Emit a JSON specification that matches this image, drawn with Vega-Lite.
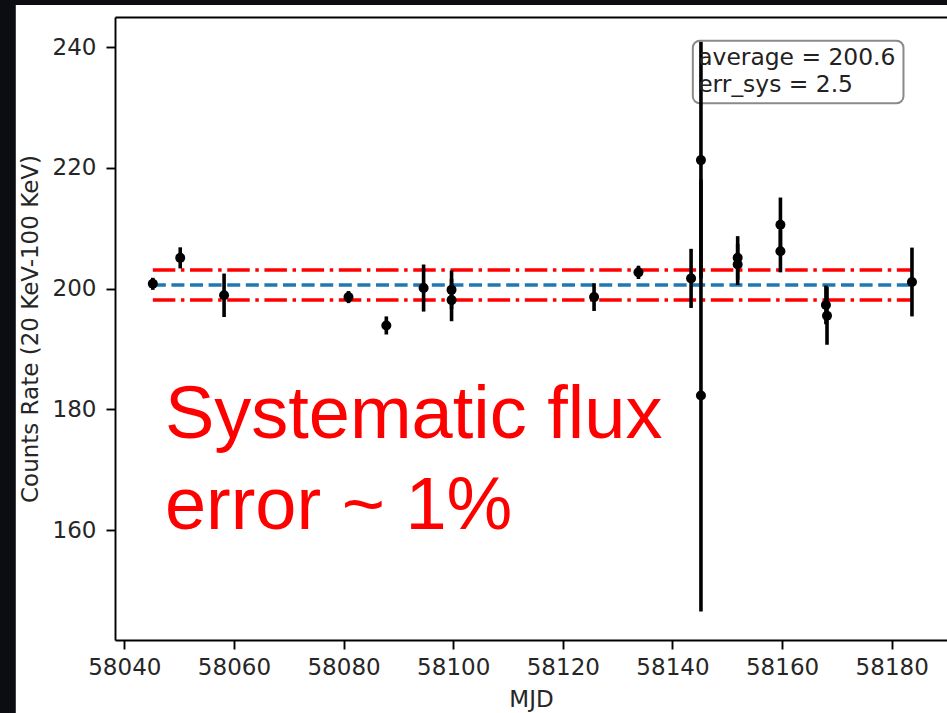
{
  "$schema": "https://vega.github.io/schema/vega-lite/v6.json",
  "width": 832,
  "height": 623,
  "autosize": {"type": "none"},
  "padding": {"left": 115, "top": 17, "right": 0, "bottom": 73},
  "background": "#0b0d12",
  "config": {
    "view": {"stroke": null},
    "axis": {
      "grid": false,
      "domainColor": "#000000",
      "domainWidth": 1.9,
      "tickColor": "#000000",
      "tickWidth": 1.9,
      "tickSize": 9,
      "labelFont": "DejaVu Sans",
      "labelFontSize": 23,
      "labelColor": "#262626",
      "titleFont": "DejaVu Sans",
      "titleFontSize": 23,
      "titleFontWeight": "normal",
      "titleColor": "#262626"
    },
    "text": {"lineBreak": "\n"}
  },
  "datasets": {
    "obs": [
      {"mjd": 58045.2, "rate": 200.8, "err": 1.0},
      {"mjd": 58050.2, "rate": 205.1, "err": 1.75},
      {"mjd": 58058.2, "rate": 198.9, "err": 3.6},
      {"mjd": 58080.9, "rate": 198.6, "err": 1.0},
      {"mjd": 58087.8, "rate": 193.9, "err": 1.5},
      {"mjd": 58094.6, "rate": 200.1, "err": 3.9},
      {"mjd": 58099.7, "rate": 199.8, "err": 3.2},
      {"mjd": 58099.7, "rate": 198.1, "err": 3.5},
      {"mjd": 58125.7, "rate": 198.6, "err": 2.3},
      {"mjd": 58133.8, "rate": 202.7, "err": 1.1},
      {"mjd": 58143.4, "rate": 201.7, "err": 4.9},
      {"mjd": 58145.2, "rate": 221.3, "err": 19.6},
      {"mjd": 58145.2, "rate": 182.3, "err": 35.8},
      {"mjd": 58151.9, "rate": 205.1, "err": 3.6},
      {"mjd": 58151.9, "rate": 204.0, "err": 3.4},
      {"mjd": 58159.7, "rate": 210.6, "err": 4.5},
      {"mjd": 58159.7, "rate": 206.2, "err": 3.5},
      {"mjd": 58168.0, "rate": 197.3, "err": 3.2},
      {"mjd": 58168.2, "rate": 195.5, "err": 4.8},
      {"mjd": 58183.7, "rate": 201.1, "err": 5.7}
    ],
    "levels": [
      {"kind": "average", "value": 200.6, "start": 58045.2, "end": 58183.7},
      {"kind": "upper", "value": 203.1, "start": 58045.2, "end": 58183.7},
      {"kind": "lower", "value": 198.1, "start": 58045.2, "end": 58183.7}
    ],
    "note": [
      {"summary": "average = 200.6\nerr_sys = 2.5", "headline": "Systematic flux\nerror ~ 1%"}
    ]
  },
  "layer": [
    {
      "description": "white figure canvas",
      "data": {"values": [{}]},
      "mark": {"type": "rect", "fill": "#ffffff", "clip": false},
      "encoding": {
        "x": {"datum": 58020.2, "type": "quantitative", "axis": null},
        "x2": {"datum": 58200},
        "y": {"datum": 247.0, "type": "quantitative", "axis": null},
        "y2": {"datum": 125}
      }
    },
    {
      "description": "summary box",
      "data": {"values": [{}]},
      "mark": {"type": "rect", "fill": "#ffffff", "stroke": "#8a8a8a", "strokeWidth": 2, "cornerRadius": 7},
      "encoding": {
        "x": {"datum": 58143.72, "type": "quantitative", "axis": null},
        "x2": {"datum": 58182.15},
        "y": {"datum": 241.09, "type": "quantitative", "axis": null},
        "y2": {"datum": 230.72}
      }
    },
    {
      "data": {"name": "levels"},
      "mark": {"type": "rule", "strokeWidth": 3.5},
      "encoding": {
        "x": {"field": "start", "type": "quantitative", "axis": {"orient": "top", "labels": false, "ticks": false, "title": null, "domain": true, "zindex": 1}},
        "x2": {"field": "end"},
        "y": {"field": "value", "type": "quantitative", "axis": null},
        "color": {
          "field": "kind", "type": "nominal", "legend": null,
          "scale": {"domain": ["average", "upper", "lower"], "range": ["#1f77b4", "#ff0000", "#ff0000"]}
        },
        "strokeDash": {
          "field": "kind", "type": "nominal", "legend": null,
          "scale": {"domain": ["average", "upper", "lower"], "range": [[13, 5.6], [22.5, 5.6, 3.5, 5.6], [22.5, 5.6, 3.5, 5.6]]}
        }
      }
    },
    {
      "data": {"name": "obs"},
      "mark": {"type": "errorbar", "color": "#000000", "thickness": 3.6},
      "encoding": {
        "x": {"field": "mjd", "type": "quantitative", "axis": null},
        "y": {"field": "rate", "type": "quantitative", "axis": null},
        "yError": {"field": "err"}
      }
    },
    {
      "data": {"name": "obs"},
      "mark": {"type": "point", "filled": true, "color": "#000000", "opacity": 1, "size": 100},
      "encoding": {
        "x": {
          "field": "mjd", "type": "quantitative",
          "scale": {"domain": [58038.3, 58190.09], "zero": false, "nice": false},
          "axis": {
            "title": "MJD",
            "zindex": 1,
            "values": [58040, 58060, 58080, 58100, 58120, 58140, 58160, 58180],
            "format": "d",
            "labelPadding": 7,
            "titlePadding": 9,
            "labelFlush": false,
            "labelOverlap": false
          }
        },
        "y": {
          "field": "rate", "type": "quantitative",
          "scale": {"domain": [141.77, 245.02], "zero": false, "nice": false},
          "axis": {
            "title": "Counts Rate (20 KeV-100 KeV)",
            "zindex": 1,
            "values": [160, 180, 200, 220, 240],
            "labelPadding": 10,
            "titlePadding": 10,
            "labelFlush": false
          }
        }
      }
    },
    {
      "data": {"name": "note"},
      "mark": {"type": "text", "align": "left", "baseline": "alphabetic", "font": "DejaVu Sans", "fontSize": 23.4, "lineHeight": 27, "color": "#222222"},
      "encoding": {
        "x": {"datum": 58144.7, "type": "quantitative", "axis": null},
        "y": {"datum": 237.07, "type": "quantitative", "axis": null},
        "text": {"field": "summary"}
      }
    },
    {
      "data": {"name": "note"},
      "mark": {"type": "text", "align": "left", "baseline": "alphabetic", "font": "Liberation Sans", "fontSize": 74, "lineHeight": 91, "color": "#ff0000"},
      "encoding": {
        "x": {"datum": 58047.4, "type": "quantitative", "axis": null},
        "y": {"datum": 175.26, "type": "quantitative", "axis": null},
        "text": {"field": "headline"}
      }
    }
  ],
  "resolve": {"axis": {"x": "independent", "y": "independent"}}
}
